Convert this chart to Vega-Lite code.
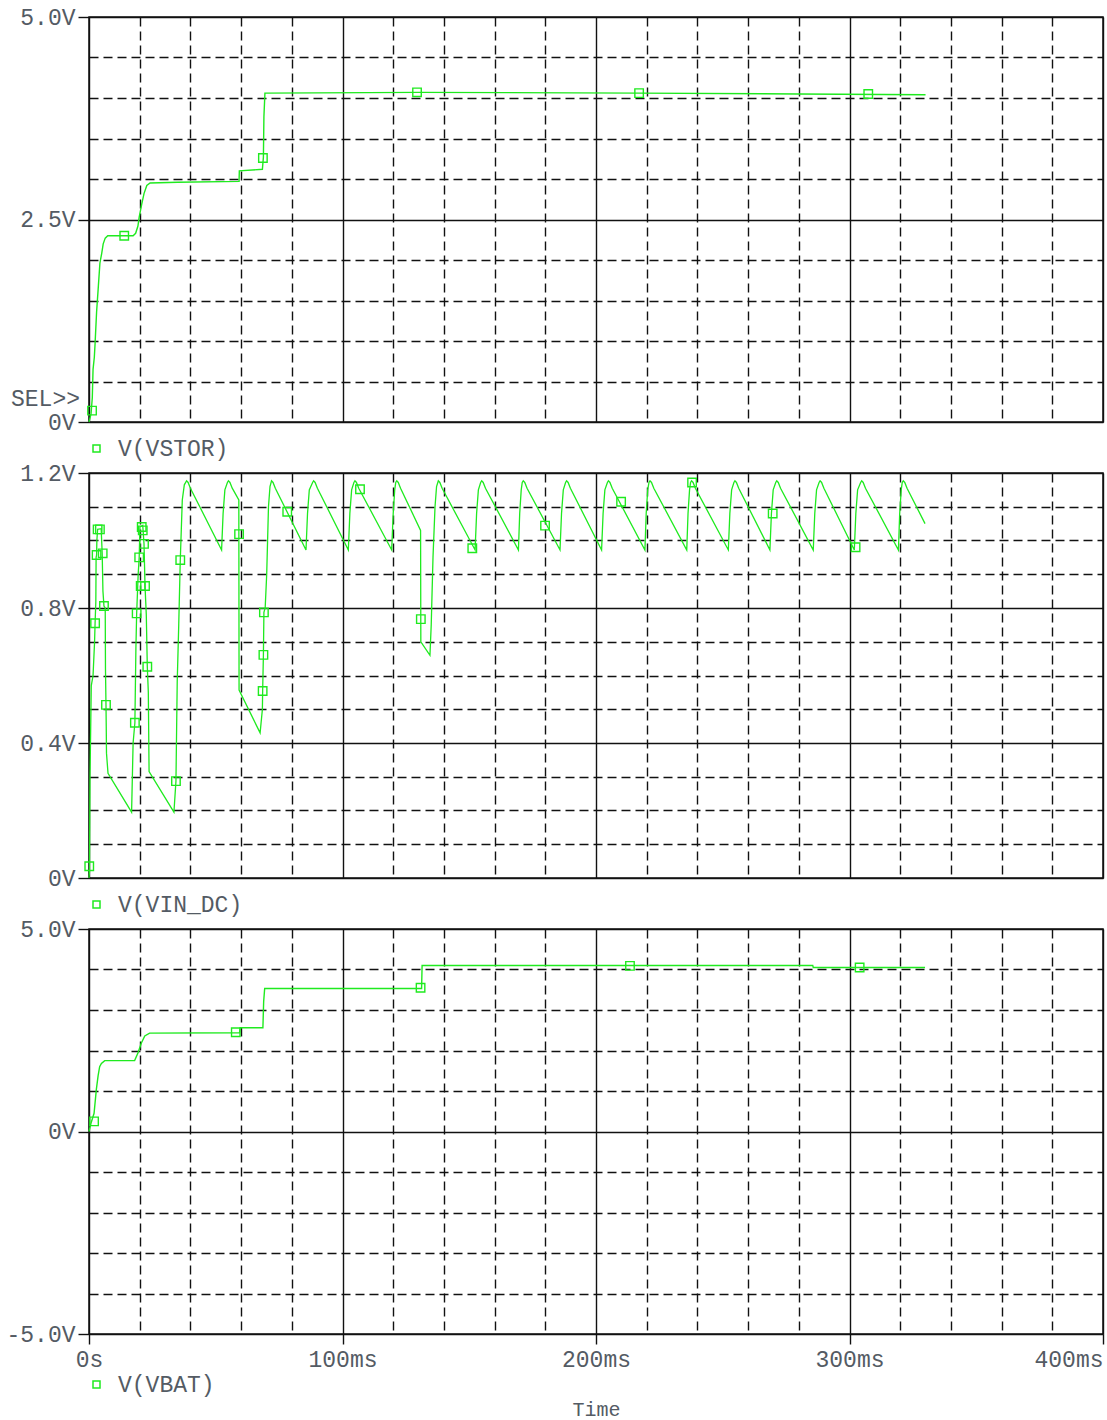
{
  "$schema": "https://vega.github.io/schema/vega-lite/v6.json",
  "background": "white",
  "padding": {"left": 5, "top": 5, "right": 0, "bottom": 0},
  "config": {
    "view": {"stroke": "#111111", "strokeWidth": 1.5},
    "font": "Liberation Mono",
    "axis": {
      "domain": false,
      "labelFont": "Liberation Mono",
      "labelFontSize": 23,
      "labelColor": "#545b64",
      "labelOverlap": false,
      "labelFlush": false,
      "gridColor": "#111111",
      "gridOpacity": 1,
      "gridWidth": 1.4,
      "tickColor": "#111111",
      "tickWidth": 1.4,
      "titleFont": "Liberation Mono",
      "titleFontSize": 20,
      "titleFontWeight": "normal",
      "titleColor": "#545b64"
    },
    "legend": {
      "orient": "none",
      "title": null,
      "symbolType": "square",
      "symbolSize": 49,
      "symbolStrokeWidth": 1.5,
      "symbolFillColor": "transparent",
      "labelFont": "Liberation Mono",
      "labelFontSize": 23,
      "labelColor": "#545b64",
      "labelOffset": 10,
      "padding": 0
    }
  },
  "datasets": {
    "vstor": [
      {"t": 0, "v": 0}, {"t": 0.8, "v": 0.1}, {"t": 1.3, "v": 0.3}, {"t": 1.6, "v": 0.65},
      {"t": 2.1, "v": 0.8}, {"t": 2.4, "v": 0.97}, {"t": 3.0, "v": 1.36}, {"t": 3.7, "v": 1.68},
      {"t": 4.3, "v": 1.96}, {"t": 5.0, "v": 2.08}, {"t": 5.6, "v": 2.2}, {"t": 6.4, "v": 2.27},
      {"t": 7.4, "v": 2.3}, {"t": 12, "v": 2.3}, {"t": 17.4, "v": 2.3}, {"t": 18.4, "v": 2.33},
      {"t": 19.3, "v": 2.42}, {"t": 19.8, "v": 2.53}, {"t": 20.8, "v": 2.69}, {"t": 21.7, "v": 2.82},
      {"t": 22.8, "v": 2.92}, {"t": 24.1, "v": 2.95}, {"t": 35, "v": 2.96}, {"t": 59.2, "v": 2.97},
      {"t": 59.3, "v": 3.1}, {"t": 68.4, "v": 3.12}, {"t": 68.8, "v": 3.27}, {"t": 69.0, "v": 3.77},
      {"t": 69.4, "v": 4.06}, {"t": 130, "v": 4.07}, {"t": 217, "v": 4.06}, {"t": 280, "v": 4.05},
      {"t": 330, "v": 4.04}
    ],
    "vstor_markers": [
      {"t": 1.2, "v": 0.14}, {"t": 13.9, "v": 2.3}, {"t": 68.6, "v": 3.26},
      {"t": 129.4, "v": 4.07}, {"t": 217, "v": 4.06}, {"t": 307.4, "v": 4.05}
    ],
    "vin": [
      {"t": 0, "v": 0}, {"t": 0.2, "v": 0.02}, {"t": 0.4, "v": 0.3}, {"t": 0.9, "v": 0.57},
      {"t": 1.6, "v": 0.6}, {"t": 2.2, "v": 0.7}, {"t": 2.4, "v": 0.755}, {"t": 2.7, "v": 0.82},
      {"t": 2.8, "v": 0.95}, {"t": 3.0, "v": 0.957}, {"t": 3.1, "v": 1.0}, {"t": 3.4, "v": 1.033},
      {"t": 4.8, "v": 1.035}, {"t": 5.2, "v": 0.962}, {"t": 5.5, "v": 0.85}, {"t": 5.9, "v": 0.806},
      {"t": 6.4, "v": 0.8}, {"t": 6.5, "v": 0.62}, {"t": 6.7, "v": 0.513}, {"t": 6.8, "v": 0.45},
      {"t": 6.9, "v": 0.37}, {"t": 7.5, "v": 0.31}, {"t": 16.8, "v": 0.195}, {"t": 17.4, "v": 0.4},
      {"t": 18.1, "v": 0.46}, {"t": 18.5, "v": 0.68}, {"t": 18.8, "v": 0.784}, {"t": 19.4, "v": 0.9},
      {"t": 19.8, "v": 0.95}, {"t": 20.1, "v": 1.04}, {"t": 21.2, "v": 1.045}, {"t": 21.7, "v": 0.99},
      {"t": 22.1, "v": 0.865}, {"t": 22.6, "v": 0.78}, {"t": 23.0, "v": 0.626}, {"t": 23.4, "v": 0.55},
      {"t": 23.7, "v": 0.315}, {"t": 33.5, "v": 0.195}, {"t": 34.3, "v": 0.287}, {"t": 34.8, "v": 0.58},
      {"t": 35.4, "v": 0.75}, {"t": 36.0, "v": 0.94}, {"t": 36.8, "v": 1.12}, {"t": 37.6, "v": 1.165},
      {"t": 38.5, "v": 1.177}, {"t": 39.1, "v": 1.172}, {"t": 40.0, "v": 1.155},
      {"t": 52.3, "v": 0.972}, {"t": 52.9, "v": 1.08}, {"t": 53.6, "v": 1.15}, {"t": 54.6, "v": 1.172},
      {"t": 55.0, "v": 1.177}, {"t": 55.6, "v": 1.172}, {"t": 56.5, "v": 1.155}, {"t": 59.1, "v": 1.12},
      {"t": 59.2, "v": 0.557}, {"t": 67.5, "v": 0.43}, {"t": 68.4, "v": 0.5}, {"t": 68.5, "v": 0.554},
      {"t": 68.8, "v": 0.661}, {"t": 69.0, "v": 0.787}, {"t": 69.5, "v": 0.8}, {"t": 70.1, "v": 0.9},
      {"t": 70.8, "v": 1.1}, {"t": 71.4, "v": 1.16}, {"t": 72.0, "v": 1.177}, {"t": 72.6, "v": 1.172},
      {"t": 73.5, "v": 1.155},
      {"t": 85.6, "v": 0.972}, {"t": 86.2, "v": 1.08}, {"t": 86.9, "v": 1.15}, {"t": 88.2, "v": 1.172},
      {"t": 88.6, "v": 1.177}, {"t": 89.2, "v": 1.172}, {"t": 90.1, "v": 1.155},
      {"t": 102.3, "v": 0.972}, {"t": 102.9, "v": 1.08}, {"t": 103.6, "v": 1.15}, {"t": 104.5, "v": 1.172},
      {"t": 104.9, "v": 1.177}, {"t": 105.5, "v": 1.172}, {"t": 106.4, "v": 1.155},
      {"t": 119.4, "v": 0.972}, {"t": 120.0, "v": 1.08}, {"t": 120.6, "v": 1.15}, {"t": 121.0, "v": 1.172},
      {"t": 121.4, "v": 1.177}, {"t": 122.0, "v": 1.172}, {"t": 122.9, "v": 1.155},
      {"t": 130.8, "v": 1.03}, {"t": 130.9, "v": 0.7}, {"t": 134.5, "v": 0.66}, {"t": 135.0, "v": 0.75},
      {"t": 135.7, "v": 0.95}, {"t": 136.5, "v": 1.1}, {"t": 137.1, "v": 1.16}, {"t": 137.8, "v": 1.177},
      {"t": 138.4, "v": 1.172}, {"t": 139.3, "v": 1.155},
      {"t": 152.3, "v": 0.972}, {"t": 152.9, "v": 1.08}, {"t": 153.6, "v": 1.15}, {"t": 154.5, "v": 1.172},
      {"t": 154.9, "v": 1.177}, {"t": 155.5, "v": 1.172}, {"t": 156.4, "v": 1.155},
      {"t": 169.4, "v": 0.972}, {"t": 169.9, "v": 1.08}, {"t": 170.5, "v": 1.15}, {"t": 170.9, "v": 1.172},
      {"t": 171.3, "v": 1.177}, {"t": 171.9, "v": 1.172}, {"t": 172.8, "v": 1.155},
      {"t": 185.8, "v": 0.972}, {"t": 186.4, "v": 1.08}, {"t": 187.1, "v": 1.15}, {"t": 188.0, "v": 1.172},
      {"t": 188.4, "v": 1.177}, {"t": 189.0, "v": 1.172}, {"t": 189.9, "v": 1.155},
      {"t": 202.2, "v": 0.972}, {"t": 202.8, "v": 1.08}, {"t": 203.5, "v": 1.15}, {"t": 204.5, "v": 1.172},
      {"t": 204.9, "v": 1.177}, {"t": 205.5, "v": 1.172}, {"t": 206.4, "v": 1.155},
      {"t": 219.3, "v": 0.972}, {"t": 219.8, "v": 1.08}, {"t": 220.4, "v": 1.15}, {"t": 220.9, "v": 1.172},
      {"t": 221.3, "v": 1.177}, {"t": 221.9, "v": 1.172}, {"t": 222.8, "v": 1.155},
      {"t": 235.8, "v": 0.972}, {"t": 236.3, "v": 1.08}, {"t": 236.9, "v": 1.15}, {"t": 237.3, "v": 1.172},
      {"t": 237.7, "v": 1.177}, {"t": 238.3, "v": 1.172}, {"t": 239.2, "v": 1.155},
      {"t": 252.2, "v": 0.972}, {"t": 252.8, "v": 1.08}, {"t": 253.5, "v": 1.15}, {"t": 254.4, "v": 1.172},
      {"t": 254.8, "v": 1.177}, {"t": 255.4, "v": 1.172}, {"t": 256.3, "v": 1.155},
      {"t": 268.6, "v": 0.972}, {"t": 269.2, "v": 1.08}, {"t": 269.9, "v": 1.15}, {"t": 270.9, "v": 1.172},
      {"t": 271.3, "v": 1.177}, {"t": 271.9, "v": 1.172}, {"t": 272.8, "v": 1.155},
      {"t": 285.7, "v": 0.972}, {"t": 286.3, "v": 1.08}, {"t": 287.0, "v": 1.15}, {"t": 288.0, "v": 1.172},
      {"t": 288.4, "v": 1.177}, {"t": 289.0, "v": 1.172}, {"t": 289.9, "v": 1.155},
      {"t": 301.9, "v": 0.972}, {"t": 302.5, "v": 1.08}, {"t": 303.2, "v": 1.15}, {"t": 304.4, "v": 1.172},
      {"t": 304.8, "v": 1.177}, {"t": 305.4, "v": 1.172}, {"t": 306.3, "v": 1.155},
      {"t": 319.3, "v": 0.972}, {"t": 319.8, "v": 1.08}, {"t": 320.4, "v": 1.15}, {"t": 320.8, "v": 1.172},
      {"t": 321.2, "v": 1.177}, {"t": 321.8, "v": 1.172}, {"t": 322.7, "v": 1.155}, {"t": 329.8, "v": 1.05}
    ],
    "vin_markers": [
      {"t": 0.1, "v": 0.035}, {"t": 2.4, "v": 0.755}, {"t": 3.0, "v": 0.957}, {"t": 3.4, "v": 1.033},
      {"t": 4.3, "v": 1.033}, {"t": 5.4, "v": 0.962}, {"t": 5.9, "v": 0.806}, {"t": 6.7, "v": 0.513},
      {"t": 18.1, "v": 0.46}, {"t": 18.8, "v": 0.784}, {"t": 19.8, "v": 0.95}, {"t": 20.4, "v": 0.865},
      {"t": 20.8, "v": 1.04}, {"t": 21.2, "v": 1.03}, {"t": 21.7, "v": 0.99}, {"t": 22.1, "v": 0.865},
      {"t": 23.0, "v": 0.626}, {"t": 34.3, "v": 0.287}, {"t": 36.0, "v": 0.942}, {"t": 59.2, "v": 1.019},
      {"t": 69.0, "v": 0.787}, {"t": 68.8, "v": 0.661}, {"t": 68.5, "v": 0.554}, {"t": 78.2, "v": 1.085},
      {"t": 106.9, "v": 1.152}, {"t": 130.9, "v": 0.767}, {"t": 151.2, "v": 0.977}, {"t": 179.9, "v": 1.044},
      {"t": 209.9, "v": 1.115}, {"t": 237.9, "v": 1.172}, {"t": 269.7, "v": 1.08}, {"t": 302.4, "v": 0.98}
    ],
    "vbat": [
      {"t": 0, "v": 0}, {"t": 0.9, "v": 0.23}, {"t": 2.0, "v": 0.45}, {"t": 2.9, "v": 1.04},
      {"t": 3.6, "v": 1.38}, {"t": 4.2, "v": 1.6}, {"t": 4.9, "v": 1.68}, {"t": 6.2, "v": 1.75},
      {"t": 18.0, "v": 1.75}, {"t": 19.3, "v": 1.94}, {"t": 20.7, "v": 2.19}, {"t": 22.0, "v": 2.36},
      {"t": 23.9, "v": 2.43}, {"t": 59.4, "v": 2.44}, {"t": 59.6, "v": 2.56}, {"t": 68.6, "v": 2.56},
      {"t": 68.9, "v": 3.21}, {"t": 69.3, "v": 3.53}, {"t": 131.2, "v": 3.53}, {"t": 131.4, "v": 4.1},
      {"t": 285.5, "v": 4.1}, {"t": 285.7, "v": 4.05}, {"t": 329.8, "v": 4.05}
    ],
    "vbat_markers": [
      {"t": 2.0, "v": 0.25}, {"t": 57.9, "v": 2.45}, {"t": 130.8, "v": 3.55},
      {"t": 213.4, "v": 4.09}, {"t": 304, "v": 4.05}
    ]
  },
  "vconcat": [
    {
      "width": 1014,
      "height": 405,
      "layer": [
        {"data": {"name": "vstor"}, "mark": {"type": "line", "strokeWidth": 1.4},
          "encoding": {
            "x": {"field": "t", "type": "quantitative", "title": null,
              "scale": {"domain": [0, 400], "nice": false, "zero": false},
              "axis": {"values": [0,20,40,60,80,100,120,140,160,180,200,220,240,260,280,300,320,340,360,380,400],
                "labels": false, "ticks": false, "title": null,
                "gridDash": {"condition": {"test": "datum.value % 100 === 0", "value": []}, "value": [9, 5]}}},
            "y": {"field": "v", "type": "quantitative", "title": null,
              "scale": {"domain": [0, 5], "nice": false, "zero": false},
              "axis": {"values": [0,0.5,1,1.5,2,2.5,3,3.5,4,4.5,5], "title": null,
                "labelExpr": "datum.value === 0 ? '0V' : datum.value === 2.5 ? '2.5V' : datum.value === 5 ? '5.0V' : ''",
                "tickSize": 11, "labelPadding": 3,
                "tickOpacity": {"condition": {"test": "datum.value === 0 || datum.value === 2.5 || datum.value === 5", "value": 1}, "value": 0},
                "gridDash": {"condition": {"test": "datum.value === 0 || datum.value === 2.5 || datum.value === 5", "value": []}, "value": [9, 5]}}},
            "color": {"datum": "V(VSTOR)", "type": "nominal", "scale": {"range": ["#1fea1f"]},
              "legend": {"legendX": -4, "legendY": 420}}}},
        {"data": {"name": "vstor_markers"}, "mark": {"type": "point", "shape": "square", "filled": false, "size": 72, "strokeWidth": 1.4, "color": "#1fea1f", "opacity": 1},
          "encoding": {"x": {"field": "t", "type": "quantitative"}, "y": {"field": "v", "type": "quantitative"}}},
        {"data": {"values": [{"label": "SEL>>"}]},
          "mark": {"type": "text", "align": "right", "baseline": "middle", "dx": -9, "font": "Liberation Mono", "fontSize": 23, "fill": "#545b64", "clip": false},
          "encoding": {"x": {"datum": 0, "type": "quantitative"}, "y": {"datum": 0.285, "type": "quantitative"}, "text": {"field": "label", "type": "nominal"}}}
      ]
    },
    {
      "width": 1014,
      "height": 405,
      "encoding": {
        "x": {"field": "t", "type": "quantitative", "title": null,
          "scale": {"domain": [0, 400], "nice": false, "zero": false},
          "axis": {"values": [0,20,40,60,80,100,120,140,160,180,200,220,240,260,280,300,320,340,360,380,400],
            "labels": false, "ticks": false, "title": null,
            "gridDash": {"condition": {"test": "datum.value % 100 === 0", "value": []}, "value": [9, 5]}}},
        "y": {"field": "v", "type": "quantitative", "title": null,
          "scale": {"domain": [0, 1.2], "nice": false, "zero": false},
          "axis": {"values": [0,0.1,0.2,0.3,0.4,0.5,0.6,0.7,0.8,0.9,1.0,1.1,1.2], "title": null,
            "labelExpr": "datum.value === 0 ? '0V' : datum.value === 0.4 ? '0.4V' : datum.value === 0.8 ? '0.8V' : datum.value === 1.2 ? '1.2V' : ''",
            "tickSize": 11, "labelPadding": 3,
            "tickOpacity": {"condition": {"test": "datum.value === 0 || datum.value === 0.4 || datum.value === 0.8 || datum.value === 1.2", "value": 1}, "value": 0},
            "gridDash": {"condition": {"test": "datum.value === 0 || datum.value === 0.4 || datum.value === 0.8 || datum.value === 1.2", "value": []}, "value": [9, 5]}}}
      },
      "layer": [
        {"data": {"name": "vin"}, "mark": {"type": "line", "strokeWidth": 1.3},
          "encoding": {"color": {"datum": "V(VIN_DC)", "type": "nominal", "scale": {"range": ["#1fea1f"]},
            "legend": {"legendX": -4, "legendY": 420}}}},
        {"data": {"name": "vin_markers"}, "mark": {"type": "point", "shape": "square", "filled": false, "size": 72, "strokeWidth": 1.4, "color": "#1fea1f", "opacity": 1}}
      ]
    },
    {
      "width": 1014,
      "height": 405,
      "encoding": {
        "x": {"field": "t", "type": "quantitative", "title": "Time",
          "scale": {"domain": [0, 400], "nice": false, "zero": false},
          "axis": {"values": [0,20,40,60,80,100,120,140,160,180,200,220,240,260,280,300,320,340,360,380,400],
            "title": "Time", "titlePadding": 28,
            "labelExpr": "datum.value === 0 ? '0s' : datum.value % 100 === 0 ? datum.value + 'ms' : ''",
            "labelAlign": {"condition": {"test": "datum.value === 400", "value": "right"}, "value": "center"},
            "tickSize": 10, "labelPadding": 4,
            "tickOpacity": {"condition": {"test": "datum.value % 100 === 0", "value": 1}, "value": 0},
            "gridDash": {"condition": {"test": "datum.value % 100 === 0", "value": []}, "value": [9, 5]}}},
        "y": {"field": "v", "type": "quantitative", "title": null,
          "scale": {"domain": [-5, 5], "nice": false, "zero": false},
          "axis": {"values": [-5,-4,-3,-2,-1,0,1,2,3,4,5], "title": null,
            "labelExpr": "datum.value === 0 ? '0V' : datum.value === 5 ? '5.0V' : datum.value === -5 ? '-5.0V' : ''",
            "tickSize": 11, "labelPadding": 3,
            "tickOpacity": {"condition": {"test": "datum.value % 5 === 0", "value": 1}, "value": 0},
            "gridDash": {"condition": {"test": "datum.value % 5 === 0", "value": []}, "value": [9, 5]}}}
      },
      "layer": [
        {"data": {"name": "vbat"}, "mark": {"type": "line", "strokeWidth": 1.4},
          "encoding": {"color": {"datum": "V(VBAT)", "type": "nominal", "scale": {"range": ["#1fea1f"]},
            "legend": {"legendX": -4, "legendY": 444}}}},
        {"data": {"name": "vbat_markers"}, "mark": {"type": "point", "shape": "square", "filled": false, "size": 72, "strokeWidth": 1.4, "color": "#1fea1f", "opacity": 1}}
      ]
    }
  ],
  "spacing": 51,
  "bounds": "flush",
  "resolve": {
    "scale": {"x": "independent", "y": "independent", "color": "independent"},
    "axis": {"x": "independent", "y": "independent"},
    "legend": {"color": "independent"}
  }
}
